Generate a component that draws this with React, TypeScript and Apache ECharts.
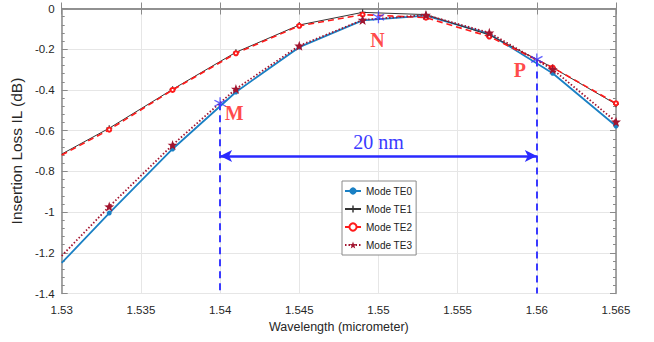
import React, { useEffect, useRef } from "react";
import * as echarts from "echarts";

const wavelengths = [1.53, 1.533, 1.537, 1.541, 1.545, 1.549, 1.553, 1.557, 1.561, 1.565];
const te0 = [-1.25, -1.005, -0.69, -0.41, -0.19, -0.058, -0.035, -0.125, -0.318, -0.577];
const te1 = [-0.715, -0.588, -0.397, -0.215, -0.081, -0.019, -0.03, -0.13, -0.29, -0.47];
const te2 = [-0.72, -0.595, -0.4, -0.22, -0.085, -0.03, -0.045, -0.138, -0.29, -0.466];
const te3 = [-1.215, -0.973, -0.67, -0.395, -0.183, -0.056, -0.032, -0.119, -0.299, -0.556];
const seriesNames = ["Mode TE0", "Mode TE1", "Mode TE2", "Mode TE3"];

const markNames = ["M", "N", "P"];
const markX = [1.54, 1.55, 1.56];
const markY = [-0.465, -0.043, -0.25];
const spanY = -0.725;
const spanLabel = "20 nm";

const xTicks = { min: 1.53, max: 1.565, interval: 0.005 };
const yTicks = { min: -1.4, max: 0, interval: 0.2 };

const SANS = "'Liberation Sans Narrow', 'Liberation Sans', Arial, sans-serif";
const SERIF = "'Liberation Serif', 'Times New Roman', serif";

const STAR =
  "path://M0,-10 L2.35,-3.24 L9.51,-3.09 L3.8,1.24 L5.88,8.09 L0,4 L-5.88,8.09 L-3.8,1.24 L-9.51,-3.09 L-2.35,-3.24 Z";
const PLUS = "path://M-1,-5 h2 v4 h4 v2 h-4 v4 h-2 v-4 h-4 v-2 h4 z";
const ASTER =
  "path://M-0.6,-6 h1.2 v4.96 l4.3,-2.48 0.6,1.04 -4.3,2.48 4.3,2.48 -0.6,1.04 -4.3,-2.48 v4.96 h-1.2 v-4.96 l-4.3,2.48 -0.6,-1.04 4.3,-2.48 -4.3,-2.48 0.6,-1.04 4.3,2.48 z";

function build(vals: number[]) {
  return wavelengths.map((x, i) =>
    i === 0 ? { value: [x, vals[i]], symbol: "none" } : { value: [x, vals[i]] }
  );
}

export default function App() {
  const ref = useRef<HTMLDivElement>(null);
  useEffect(() => {
    document.body.style.margin = "0";
    const chart = echarts.init(ref.current!, null, { renderer: "svg" });
    const axisLine = { show: true, lineStyle: { color: "#8a8a8a", width: 1.5 } };
    const labelStyle = { fontFamily: SANS, fontSize: 11.5, color: "#262626" };
    const dashed = { color: "#3a3aff", width: 2, type: [7, 5] as any };
    chart.setOption({
      animation: false,
      backgroundColor: "#ffffff",
      grid: { left: 57, right: 38, top: 8.5, bottom: 48.5, containLabel: false },
      legend: {
        orient: "vertical",
        left: 342,
        top: 181,
        data: seriesNames,
        backgroundColor: "#ffffff",
        borderColor: "#8a8a8a",
        borderWidth: 1,
        padding: [5, 4, 5, 2],
        itemGap: 8,
        itemWidth: 16,
        itemHeight: 9,
        textStyle: { fontFamily: SANS, fontSize: 10, color: "#222" },
      },
      xAxis: [
        {
          type: "value",
          ...xTicks,
          name: "Wavelength (micrometer)",
          nameLocation: "middle",
          nameGap: 22,
          nameTextStyle: { fontFamily: SANS, fontSize: 12.5, color: "#262626" },
          axisLine,
          axisTick: { show: true, inside: true, length: 6, lineStyle: { color: "#8a8a8a" } },
          axisLabel: { ...labelStyle, margin: 10 },
          splitLine: { show: true, lineStyle: { color: "#e6e6e6", width: 1 } },
        },
        {
          type: "value",
          position: "top",
          ...xTicks,
          axisLine,
          axisTick: { show: true, inside: true, length: 6, lineStyle: { color: "#8a8a8a" } },
          axisLabel: { show: false },
          splitLine: { show: false },
        },
      ],
      yAxis: [
        {
          type: "value",
          ...yTicks,
          name: "Insertion Loss IL (dB)",
          nameLocation: "middle",
          nameGap: 30,
          nameTextStyle: { fontFamily: "'Liberation Sans', Arial, sans-serif", fontSize: 15.5, color: "#262626" },
          axisLine,
          axisTick: { show: true, inside: true, length: 6, lineStyle: { color: "#8a8a8a" } },
          minorTick: { show: true, splitNumber: 5, length: 3, lineStyle: { color: "#8a8a8a" } },
          axisLabel: { ...labelStyle, margin: 7 },
          splitLine: { show: true, lineStyle: { color: "#e6e6e6", width: 1 } },
        },
        {
          type: "value",
          position: "right",
          ...yTicks,
          axisLine,
          axisTick: { show: true, inside: true, length: 6, lineStyle: { color: "#8a8a8a" } },
          minorTick: { show: true, splitNumber: 5, length: 3, lineStyle: { color: "#8a8a8a" } },
          axisLabel: { show: false },
          splitLine: { show: false },
        },
      ],
      series: [
        {
          name: seriesNames[0],
          type: "line",
          data: build(te0),
          symbol: "circle",
          symbolSize: 5,
          lineStyle: { color: "#1a80c4", width: 1.8 },
          itemStyle: { color: "#1a80c4" },
          z: 3,
        },
        {
          name: seriesNames[1],
          type: "line",
          data: build(te1),
          symbol: PLUS,
          symbolSize: 6,
          lineStyle: { color: "#333333", width: 1 },
          itemStyle: { color: "#333333" },
          z: 3,
        },
        {
          name: seriesNames[2],
          type: "line",
          data: build(te2),
          symbol: "emptyCircle",
          symbolSize: 4,
          lineStyle: { color: "#ff1a1a", width: 1.6, type: [6, 4] },
          itemStyle: { color: "#ff1a1a", borderColor: "#ff1a1a", borderWidth: 1.5 },
          z: 4,
        },
        {
          name: seriesNames[3],
          type: "line",
          data: build(te3),
          symbol: STAR,
          symbolSize: 10,
          lineStyle: { color: "#a2142f", width: 1.8, type: [1.5, 2] },
          itemStyle: { color: "#a2142f" },
          z: 5,
        },
        {
          type: "scatter",
          data: markX.map((x, i) => ({
            value: [x, markY[i]],
            label: {
              show: true,
              formatter: markNames[i],
              position: "inside",
              offset: [[14, 10], [-1, 23], [-17, 11]][i],
              fontFamily: SERIF,
              fontWeight: "bold",
              fontSize: 20,
              color: "#ff1a1a",
            },
          })),
          symbol: ASTER,
          symbolSize: 12,
          itemStyle: { color: "#3a3aff" },
          z: 6,
          markLine: {
            silent: true,
            animation: false,
            data: [
              [
                { coord: [markX[0], markY[0]], symbol: "none" },
                { coord: [markX[0], yTicks.min], symbol: "none" },
              ],
              [
                { coord: [markX[2], markY[2]], symbol: "none" },
                { coord: [markX[2], yTicks.min], symbol: "none" },
              ],
            ],
            lineStyle: dashed,
            label: { show: false },
          },
        },
        {
          type: "line",
          data: [],
          markLine: {
            silent: true,
            animation: false,
            symbol: ["arrow", "arrow"],
            symbolSize: [9, 12],
            data: [[{ coord: [markX[0], spanY] }, { coord: [markX[2], spanY] }]],
            lineStyle: { color: "#2a2aff", width: 2.5, type: "solid" },
            label: {
              show: true,
              position: "middle",
              formatter: spanLabel,
              distance: 4,
              fontFamily: SERIF,
              fontSize: 20,
              color: "#3a3aff",
            },
          },
        },
      ],
    });
    return () => chart.dispose();
  }, []);
  return <div ref={ref} style={{ width: 654, height: 342 }} />;
}
